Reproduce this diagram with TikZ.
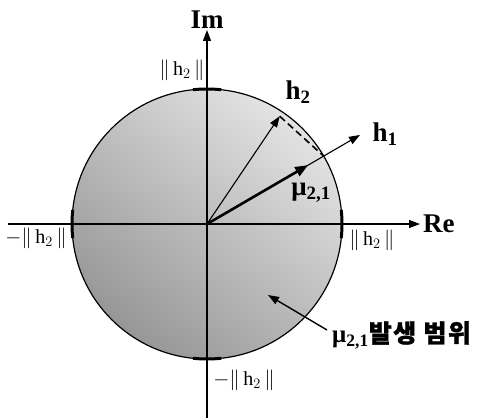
\documentclass[tikz,border=0pt]{standalone}
\usepackage{amsmath}
\usepackage{fontspec}
\setmainfont{Liberation Serif}
\newfontfamily\krfont[FakeBold=1.2, LetterSpace=6]{Noto Sans CJK KR}
\usetikzlibrary{arrows.meta, calc}
\tikzset{arr/.style={-{Triangle[length=11pt, width=8pt]}}}

\begin{document}
\begin{tikzpicture}[x=1pt, y=1pt,
      every node/.style={inner sep=1pt},
      axis/.style={draw, line width=1.1pt, arr},
      vec/.style={draw, line width=1.1pt, arr},
      bold lbl/.style={font=\fontsize{27}{29}\selectfont\bfseries},
      norm lbl/.style={font=\fontsize{20}{22}\selectfont},
      tickarc/.style={line width=3pt},
  ]
      \useasboundingbox (0,0) rectangle (479,418);

      % Disc of possible mu values
      \coordinate (O) at (207,194);
      \shade[top color=gray!22, bottom color=gray!82, shading angle=-40] (O) circle (135);
      \draw[line width=1.2pt] (O) circle (135);

      % Thick marks where the axes cross the circle
      \draw[tickarc] ($(O)+(96:135)$) arc (96:84:135);
      \draw[tickarc] ($(O)+(264:135)$) arc (264:276:135);
      \draw[tickarc] ($(O)+(174:135)$) arc (174:186:135);
      \draw[tickarc] ($(O)+(-6:135)$) arc (-6:6:135);

      % Axes
      \coordinate (reL) at (8,194);
      \coordinate (reR) at (420,194);
      \coordinate (imB) at (207,0);
      \coordinate (imT) at (207,388);
      \draw[axis] (reL) -- (reR);
      \draw[axis] (imB) -- (imT);
      \node[bold lbl, right=2pt] (re) at (reR) {Re};
      \node[bold lbl, above=0pt] (im) at (imT) {Im};

      % Vectors
      \coordinate (h2tip) at ($(O)+(56:130)$);
      \coordinate (h1tip) at ($(O)+(30.2:177)$);
      \coordinate (mutip) at ($(O)+(30.2:117)$);
      \coordinate (rim) at ($(O)+(30.2:135)$);
      \draw[vec] (O) -- (h2tip);
      \draw[vec] (O) -- (h1tip);
      \draw[line width=1.6pt, dash pattern=on 7pt off 4pt] (h2tip) -- (rim);
      \draw[line width=2.6pt, -{Triangle[length=13pt, width=10pt]}] (O) -- (mutip);

      \node[bold lbl] (h2) at (298,326) {h\textsubscript{2}};
      \node[bold lbl] (h1) at (385,284) {h\textsubscript{1}};
      \node[bold lbl] (mu) at (311,225) {μ\textsubscript{2,1}};

      % Radius labels
      \node[norm lbl] (top) at (182,348) {$\|\,\mathrm{h}_2\,\|$};
      \node[norm lbl] (right) at (372,178) {$\|\,\mathrm{h}_2\,\|$};
      \node[norm lbl] (left) at (36,180) {$-\|\,\mathrm{h}_2\,\|$};
      \node[norm lbl] (bottom) at (244,38) {$-\|\,\mathrm{h}_2\,\|$};

      % Range annotation
      \coordinate (inside) at (268,123);
      \node[font=\fontsize{25}{27}\selectfont\bfseries, anchor=west] (range) at (331,83)
          {μ\textsubscript{2,1}\krfont 발생 범위};
      \draw[line width=1.4pt, arr] (range.west) ++(-4,5) -- (inside);
\end{tikzpicture}
\end{document}
